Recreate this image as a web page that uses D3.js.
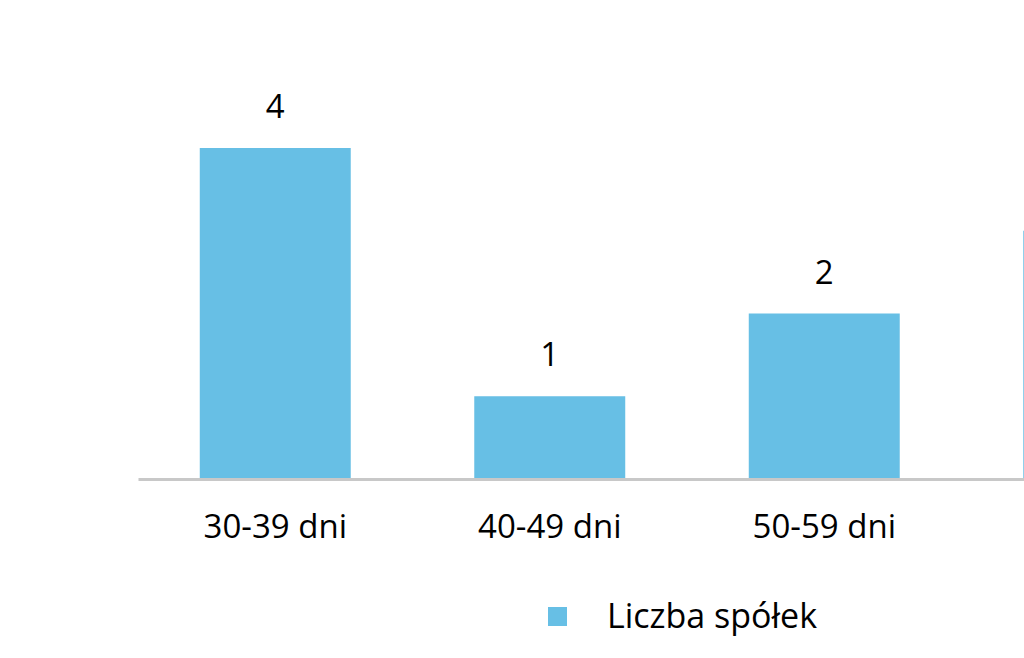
<!DOCTYPE html>
<html>
<head>
<meta charset="utf-8">
<script src="https://cdn.jsdelivr.net/npm/d3@7"></script>
<style>
  html, body { margin: 0; padding: 0; background: #fff; overflow: hidden; }
  svg { display: block; }
  text { font-family: "Open Sans", sans-serif; fill: #000; }
</style>
</head>
<body>
<svg id="chart" width="1024" height="658"></svg>
<script>
const categories = ["30-39 dni", "40-49 dni", "50-59 dni", "60-69 dni"];
const values = [4, 1, 2, 3];
const seriesName = "Liczba spółek";

const W = 1024;
const svg = d3.select("#chart");
const baseline = 479;
const barColor = "#67bfe5";

const x = d3.scaleBand()
  .domain(categories)
  .range([138, 138 + 274.5 * categories.length])
  .paddingInner(0.45)
  .paddingOuter(0.225);

const y = d3.scaleLinear()
  .domain([0, 4])
  .range([baseline, 148]);

const center = c => x(c) + x.bandwidth() / 2;
const visible = categories.map(c => center(c) < W);

// bars
svg.selectAll("rect.bar")
  .data(values)
  .join("rect")
  .attr("class", "bar")
  .attr("x", (d, i) => x(categories[i]))
  .attr("y", d => y(d))
  .attr("width", x.bandwidth())
  .attr("height", d => baseline - y(d))
  .attr("fill", barColor);

// value labels (only those within the visible frame)
svg.selectAll("text.val")
  .data(values.map((v, i) => ({ v, c: categories[i] })).filter((d, i) => visible[i]))
  .join("text")
  .attr("class", "val")
  .attr("x", d => center(d.c))
  .attr("y", d => y(d.v) - 30)
  .attr("text-anchor", "middle")
  .style("font-size", "33px")
  .text(d => d.v);

// x axis
const axis = d3.axisBottom(x).tickSize(0).tickPadding(36);
const g = svg.append("g").attr("transform", `translate(0,${baseline})`).call(axis);
g.select(".domain").attr("stroke", "#c8c8c8").attr("stroke-width", 3);
g.selectAll(".tick").filter(c => center(c) >= W).remove();
g.selectAll(".tick text")
  .style("font-size", "33px")
  .style("font-family", "'Open Sans', sans-serif")
  .attr("fill", "#000");

// legend
const lg = svg.append("g");
lg.append("rect").attr("x", 548).attr("y", 607).attr("width", 19).attr("height", 19).attr("fill", barColor);
lg.append("text").attr("x", 607).attr("y", 628).style("font-size", "34px").text(seriesName);
</script>
</body>
</html>
